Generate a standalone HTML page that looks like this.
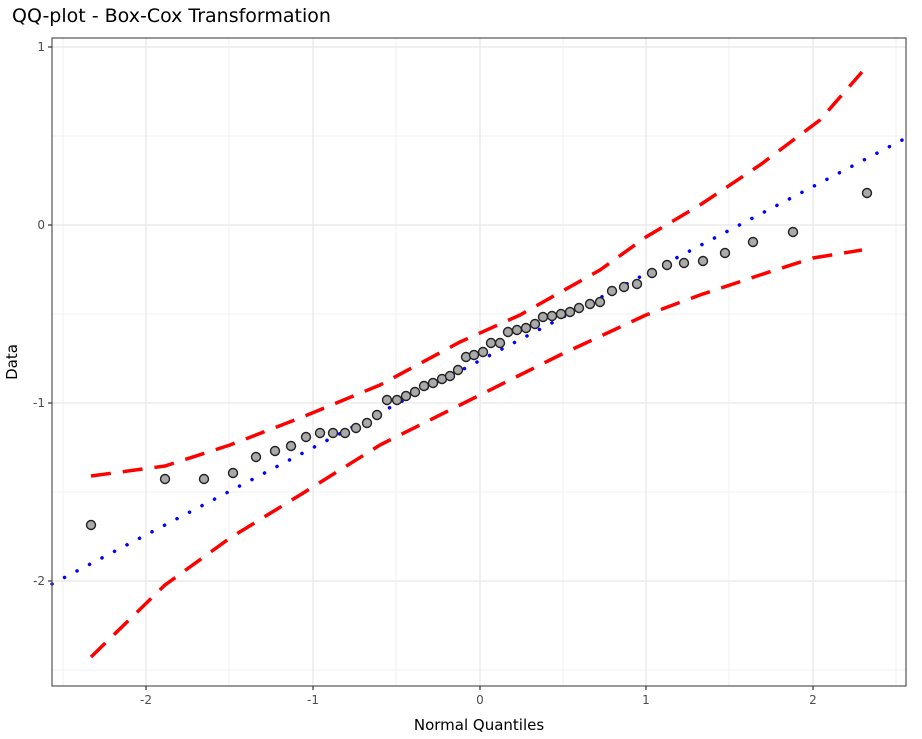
<!DOCTYPE html>
<html><head><meta charset="utf-8"><style>
body{margin:0;background:#fff;}
svg{display:block;font-family:"DejaVu Sans","Liberation Sans",sans-serif;}
</style></head><body>
<svg width="922" height="739" viewBox="0 0 922 739" xmlns="http://www.w3.org/2000/svg">
<rect width="922" height="739" fill="#fff"/>
<text x="12" y="22" font-size="19" fill="#000">QQ-plot - Box-Cox Transformation</text>
<g stroke="#f2f2f2" stroke-width="1">
<line x1="63" y1="38" x2="63" y2="686"/><line x1="229" y1="38" x2="229" y2="686"/><line x1="396" y1="38" x2="396" y2="686"/><line x1="563" y1="38" x2="563" y2="686"/><line x1="729" y1="38" x2="729" y2="686"/><line x1="896" y1="38" x2="896" y2="686"/>
<line x1="52" y1="136" x2="906" y2="136"/><line x1="52" y1="314" x2="906" y2="314"/><line x1="52" y1="492" x2="906" y2="492"/><line x1="52" y1="670" x2="906" y2="670"/>
</g>
<g stroke="#ebebeb" stroke-width="1.5">
<line x1="146" y1="38" x2="146" y2="686"/><line x1="313" y1="38" x2="313" y2="686"/><line x1="480" y1="38" x2="480" y2="686"/><line x1="646" y1="38" x2="646" y2="686"/><line x1="813" y1="38" x2="813" y2="686"/>
<line x1="52" y1="47" x2="906" y2="47"/><line x1="52" y1="225" x2="906" y2="225"/><line x1="52" y1="403" x2="906" y2="403"/><line x1="52" y1="581" x2="906" y2="581"/>
</g>
<polyline fill="none" stroke="#ff0000" stroke-width="3.5" stroke-dasharray="20,12" points="91,476 165,466 230,445 300,418 380,385 460,342 520,315 600,270 646,237 700,205 760,165 820,120 862,72"/>
<polyline fill="none" stroke="#ff0000" stroke-width="3.5" stroke-dasharray="20,12" points="91,657 165,585 230,538 300,495 380,445 480,395 560,355 646,315 700,295 760,275 813,258 862,250"/>
<line x1="52" y1="584" x2="906" y2="138" stroke="#0000ff" stroke-width="3.5" stroke-dasharray="0.1,14" stroke-linecap="round"/>
<g fill="#aaaaaa" stroke="#222" stroke-width="1.4">
<circle cx="91" cy="525" r="4.5"/><circle cx="165" cy="479" r="4.5"/><circle cx="204" cy="479" r="4.5"/><circle cx="233" cy="473" r="4.5"/><circle cx="256" cy="457" r="4.5"/><circle cx="275" cy="451" r="4.5"/><circle cx="291" cy="446" r="4.5"/><circle cx="306" cy="437" r="4.5"/><circle cx="320" cy="433" r="4.5"/><circle cx="333" cy="433" r="4.5"/><circle cx="345" cy="433" r="4.5"/><circle cx="356" cy="428" r="4.5"/><circle cx="367" cy="423" r="4.5"/><circle cx="377" cy="415" r="4.5"/><circle cx="387" cy="400" r="4.5"/><circle cx="397" cy="400" r="4.5"/><circle cx="406" cy="396" r="4.5"/><circle cx="415" cy="392" r="4.5"/><circle cx="424" cy="386" r="4.5"/><circle cx="433" cy="383" r="4.5"/><circle cx="442" cy="379" r="4.5"/><circle cx="450" cy="376" r="4.5"/><circle cx="458" cy="370" r="4.5"/><circle cx="466" cy="357" r="4.5"/><circle cx="474" cy="355" r="4.5"/><circle cx="483" cy="352" r="4.5"/><circle cx="491" cy="343" r="4.5"/><circle cx="500" cy="343" r="4.5"/><circle cx="508" cy="332" r="4.5"/><circle cx="517" cy="330" r="4.5"/><circle cx="526" cy="328" r="4.5"/><circle cx="535" cy="324" r="4.5"/><circle cx="543" cy="317" r="4.5"/><circle cx="552" cy="316" r="4.5"/><circle cx="561" cy="314" r="4.5"/><circle cx="570" cy="312" r="4.5"/><circle cx="579" cy="308" r="4.5"/><circle cx="590" cy="304" r="4.5"/><circle cx="600" cy="302" r="4.5"/><circle cx="612" cy="291" r="4.5"/><circle cx="624" cy="287" r="4.5"/><circle cx="637" cy="284" r="4.5"/><circle cx="652" cy="273" r="4.5"/><circle cx="667" cy="265" r="4.5"/><circle cx="684" cy="263" r="4.5"/><circle cx="703" cy="261" r="4.5"/><circle cx="725" cy="253" r="4.5"/><circle cx="753" cy="242" r="4.5"/><circle cx="793" cy="232" r="4.5"/><circle cx="867" cy="193" r="4.5"/>
</g>
<rect x="52" y="38" width="854" height="648" fill="none" stroke="#555" stroke-width="1.2"/>
<g stroke="#333" stroke-width="1.2">
<line x1="146" y1="686" x2="146" y2="690"/><line x1="313" y1="686" x2="313" y2="690"/><line x1="480" y1="686" x2="480" y2="690"/><line x1="646" y1="686" x2="646" y2="690"/><line x1="813" y1="686" x2="813" y2="690"/>
<line x1="48" y1="47" x2="52" y2="47"/><line x1="48" y1="225" x2="52" y2="225"/><line x1="48" y1="403" x2="52" y2="403"/><line x1="48" y1="581" x2="52" y2="581"/>
</g>
<g font-size="12" fill="#4d4d4d" text-anchor="middle">
<text x="146" y="704">-2</text><text x="313" y="704">-1</text><text x="480" y="704">0</text><text x="646" y="704">1</text><text x="813" y="704">2</text>
</g>
<g font-size="12" fill="#4d4d4d" text-anchor="end">
<text x="45" y="51">1</text><text x="45" y="229">0</text><text x="45" y="407">-1</text><text x="45" y="585">-2</text>
</g>
<text x="479" y="730" font-size="15" text-anchor="middle" fill="#000">Normal Quantiles</text>
<text x="17" y="362" font-size="15" text-anchor="middle" fill="#000" transform="rotate(-90 17 362)">Data</text>
</svg>
</body></html>
